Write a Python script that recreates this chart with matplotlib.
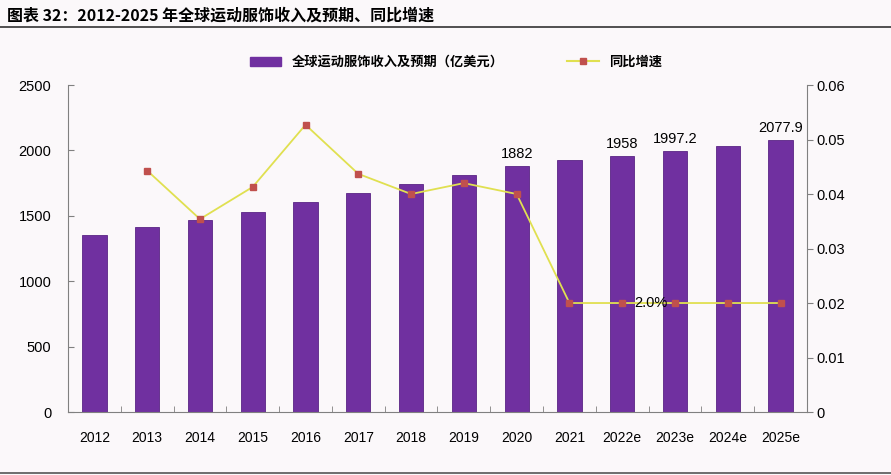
import matplotlib
matplotlib.use('Agg')
import matplotlib.pyplot as plt
from matplotlib.patches import Patch
from matplotlib.lines import Line2D
import numpy as np

plt.rcParams['font.family'] = ['Liberation Sans', 'Noto Sans CJK SC', 'DejaVu Sans']

years = ['2012', '2013', '2014', '2015', '2016', '2017', '2018', '2019',
         '2020', '2021', '2022e', '2023e', '2024e', '2025e']
revenue = [1353, 1414, 1468, 1529, 1606, 1674, 1743, 1812,
           1882, 1927, 1958, 1997.2, 2037, 2077.9]
growth = [None, 0.0443, 0.0354, 0.0413, 0.0527, 0.0437, 0.0400, 0.0420,
          0.0400, 0.020, 0.020, 0.020, 0.020, 0.020]
labelled = {'2020': '1882', '2022e': '1958', '2023e': '1997.2', '2025e': '2077.9'}

bg = '#fbf8fa'
purple = '#7030a0'
yellow = '#e0e050'
marker_red = '#c0504d'
axis_grey = '#808080'

fig = plt.figure(figsize=(8.91, 4.75), dpi=100, facecolor=bg)
ax = fig.add_axes([0.0763, 0.1326, 0.9057 - 0.0763, 0.821 - 0.1326])
ax.set_facecolor(bg)

x = np.arange(len(years))
ax.bar(x, revenue, width=0.46, color=purple, edgecolor='#5a2585', linewidth=0.6, zorder=2)
ax.set_xlim(-0.5, len(years) - 0.5)
ax.set_ylim(0, 2500)
ax.set_yticks(range(0, 2501, 500))
ax.set_xticks(x)
ax.set_xticklabels(years, fontsize=10)
ax.set_xticks(np.arange(-0.5, len(years), 1), minor=True)
ax.tick_params(axis='x', which='major', length=0, pad=14)
ax.tick_params(axis='x', which='minor', length=4, direction='in', color=axis_grey)
ax.tick_params(axis='y', length=4, direction='in', color=axis_grey, labelsize=10.5, pad=12)
for s in ['top', 'right']:
    ax.spines[s].set_visible(False)
for s in ['left', 'bottom']:
    ax.spines[s].set_color(axis_grey)

for i, y in enumerate(years):
    if y in labelled:
        ax.text(i, revenue[i] + 40, labelled[y], ha='center', va='bottom', fontsize=10.5)

ax2 = ax.twinx()
ax2.set_ylim(0, 0.06)
ax2.set_yticks([0, 0.01, 0.02, 0.03, 0.04, 0.05, 0.06])
ax2.set_yticklabels(['0', '0.01', '0.02', '0.03', '0.04', '0.05', '0.06'])
ax2.tick_params(axis='y', length=4, direction='out', color=axis_grey, labelsize=10.5, pad=3)
for s in ['top', 'left', 'bottom']:
    ax2.spines[s].set_visible(False)
ax2.spines['right'].set_color(axis_grey)
gx = [i for i, g in enumerate(growth) if g is not None]
gy = [g for g in growth if g is not None]
ax2.plot(gx, gy, color=yellow, linewidth=1.3, marker='s', markersize=5,
         markerfacecolor=marker_red, markeredgecolor=marker_red, zorder=3)
ax2.text(10.55, 0.02, '2.0%', ha='center', va='center', fontsize=10.5)

handles = [Patch(facecolor=purple, edgecolor=purple),
           Line2D([0], [0], color=yellow, marker='s', markersize=5,
                  markerfacecolor=marker_red, markeredgecolor=marker_red)]
fig.legend(handles, ['全球运动服饰收入及预期（亿美元）', '同比增速'],
           loc='center', bbox_to_anchor=(456 / 891, 1 - 62 / 475), ncol=2,
           frameon=False, columnspacing=4.8, handlelength=2.4,
           prop={'family': ['Noto Sans CJK SC'], 'weight': 'bold', 'size': 9.5})

fig.text(0.008, 1 - 15 / 475, '图表 32：2012-2025 年全球运动服饰收入及预期、同比增速',
         ha='left', va='center', fontsize=11.5, fontweight='bold',
         family=['Noto Sans CJK SC', 'DejaVu Sans'])
fig.add_artist(Line2D([0, 1], [1 - 27 / 475, 1 - 27 / 475], color='#333333', linewidth=1.2))
fig.add_artist(Line2D([0, 1], [1 - 473 / 475, 1 - 473 / 475], color='#555555', linewidth=1.2))

fig.savefig('out.png', dpi=100, facecolor=bg)
